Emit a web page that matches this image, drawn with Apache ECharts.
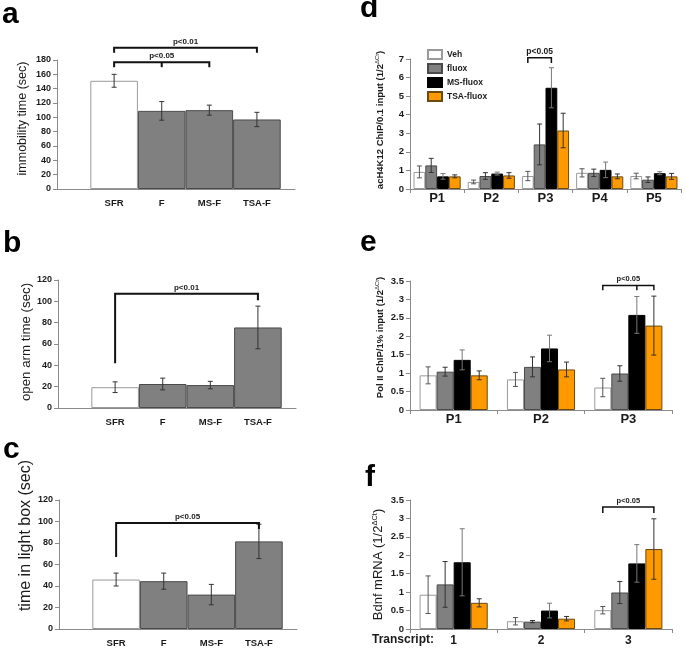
<!DOCTYPE html>
<html><head><meta charset="utf-8">
<script src="https://cdn.jsdelivr.net/npm/echarts@6/dist/echarts.min.js"></script>
<style>html,body{margin:0;padding:0;background:#fff}#c{width:685px;height:650px}</style>
</head><body><div id="c"></div>
<script>
// ---------- data ----------
const catsABC = ['SFR', 'F', 'MS-F', 'TSA-F'];
const immobility = [151, 109, 110, 97];
const immobilityErr = [9, 13, 7, 10];
const openArm = [19.5, 22.5, 21.5, 75.5];
const openArmErr = [5, 5.5, 3.5, 20];
const lightBox = [46, 44.5, 32, 81.5];
const lightBoxErr = [6, 7.5, 9.5, 16];

const seriesNames = ['Veh', 'fluox', 'MS-fluox', 'TSA-fluox'];
const catsD = ['P1', 'P2', 'P3', 'P4', 'P5'];
const vehD = [0.92, 0.38, 0.7, 0.87, 0.7];
const vehDErr = [0.32, 0.1, 0.25, 0.22, 0.15];
const fluoxD = [1.27, 0.7, 2.4, 0.87, 0.5];
const fluoxDErr = [0.38, 0.18, 1.1, 0.2, 0.15];
const msD = [0.68, 0.83, 5.45, 1.03, 0.85];
const msDErr = [0.15, 0.08, 1.08, 0.42, 0.08];
const tsaD = [0.68, 0.73, 3.15, 0.68, 0.68];
const tsaDErr = [0.08, 0.15, 0.93, 0.13, 0.16];

const catsE = ['P1', 'P2', 'P3'];
const vehE = [0.94, 0.83, 0.61];
const vehEErr = [0.23, 0.19, 0.25];
const fluoxE = [1.04, 1.17, 0.99];
const fluoxEErr = [0.12, 0.27, 0.21];
const msE = [1.36, 1.67, 2.58];
const msEErr = [0.27, 0.36, 0.5];
const tsaE = [0.94, 1.1, 2.29];
const tsaEErr = [0.12, 0.2, 0.8];

const catsF = ['1', '2', '3'];
const vehF = [0.93, 0.21, 0.51];
const vehFErr = [0.51, 0.1, 0.1];
const fluoxF = [1.21, 0.2, 0.99];
const fluoxFErr = [0.62, 0.03, 0.3];
const msF = [1.81, 0.5, 1.78];
const msFErr = [0.91, 0.2, 0.51];
const tsaF = [0.71, 0.28, 2.17];
const tsaFErr = [0.11, 0.06, 0.82];

// significance annotations (category index, bar index within group, y in data units)
const sigA = [
  {text: 'p<0.01', c1: [0, 0], c2: [3, 0], y: 197, d1: 190, d2: 190},
  {text: 'p<0.05', c1: [0, 0], c2: [2, 0], y: 177, d1: 170, d2: 170, mid: [1, 0], dm: 170}
];
const sigB = [{text: 'p<0.01', c1: [0, 0], c2: [3, 0], y: 107, d1: 42, d2: 101}];
const sigC = [{text: 'p<0.05', c1: [0, 0], c2: [3, 0], y: 98.5, d1: 67, d2: 93}];
const sigD = [{text: 'p<0.05', c1: [2, 0], c2: [2, 2], y: 7.07, d1: 6.78, d2: 6.78}];
const sigE = [{text: 'p<0.05', c1: [2, 0], c2: [2, 3], y: 3.38, d1: 3.25, d2: 3.25, mid: [2, 2], dm: 3.25}];
const sigF = [{text: 'p<0.05', c1: [2, 0], c2: [2, 3], y: 3.31, d1: 3.15, d2: 3.15}];

// ---------- styles ----------
const FONT = '"Liberation Sans", Arial, sans-serif';
const TXT = '#1a1a1a';
const AX = '#8a8a8a';
const barStyles = [
  {color: '#ffffff', borderColor: '#9a9a9a', borderWidth: 1},
  {color: '#808080', borderColor: '#4a4a4a', borderWidth: 1},
  {color: '#000000', borderColor: '#000000', borderWidth: 1},
  {color: '#ff9900', borderColor: '#6a4a10', borderWidth: 1}
];
const gapD = 0.13, gapEF = 0.22;

const chart = echarts.init(document.getElementById('c'), null, {renderer: 'canvas'});

function yAxisCfg(gi, max, interval, name, nameGap, nameStyle, labelSize) {
  return {
    type: 'value', gridIndex: gi, min: 0, max: max, interval: interval,
    splitLine: {show: false},
    axisLine: {show: true, onZero: false, lineStyle: {color: AX, width: 1}},
    axisTick: {show: true, length: 4, inside: false, lineStyle: {color: AX}},
    axisLabel: {fontFamily: FONT, fontSize: labelSize, fontWeight: 'bold', color: TXT, margin: 6},
    name: name, nameLocation: 'middle', nameGap: nameGap, nameRotate: 90,
    nameTextStyle: nameStyle
  };
}
function xValueAxisCfg(gi, cats) {
  return {
    type: 'value', gridIndex: gi, min: -1.2, max: 3.8, interval: 0.2,
    splitLine: {show: false},
    axisLine: {show: true, onZero: false, lineStyle: {color: AX, width: 1}},
    axisTick: {show: false},
    axisLabel: {
      fontFamily: FONT, fontSize: 9.5, fontWeight: 'bold', color: TXT, margin: 9,
      showMinLabel: true, showMaxLabel: true,
      formatter: function (v) {
        const r = Math.round(v);
        return (Math.abs(v - r) < 1e-6 && r >= 0 && r < cats.length) ? cats[r] : '';
      }
    }
  };
}
function xCatAxisCfg(gi, cats, fontSize, margin) {
  return {
    type: 'category', gridIndex: gi, data: cats,
    axisLine: {show: true, onZero: false, lineStyle: {color: AX, width: 1}},
    axisTick: {show: true, length: 4, lineStyle: {color: AX}},
    axisLabel: {fontFamily: FONT, fontSize: fontSize, fontWeight: 'bold', color: TXT, margin: margin}
  };
}

function errRender(off, col) {
  return function (params, api) {
    const i = api.value(0), v = api.value(1), e = api.value(2);
    const c = api.coord([i, v]);
    const band = api.size([1, 0])[0];
    const x = c[0] + off * band;
    const yt = api.coord([i, v + e])[1];
    const yb = api.coord([i, Math.max(0, v - e)])[1];
    const cap = 2.5;
    const st = {stroke: col, lineWidth: 1};
    return {type: 'group', children: [
      {type: 'line', shape: {x1: x, y1: yt, x2: x, y2: yb}, style: st},
      {type: 'line', shape: {x1: x - cap, y1: yt, x2: x + cap, y2: yt}, style: st},
      {type: 'line', shape: {x1: x - cap, y1: yb, x2: x + cap, y2: yb}, style: st}
    ]};
  };
}
function errSeries(gi, vals, errs, off, col) {
  return {
    type: 'custom', xAxisIndex: gi, yAxisIndex: gi, z: 5, silent: true,
    renderItem: errRender(off, col),
    encode: {x: 0, y: 1},
    data: vals.map((v, i) => [i, v, errs[i]])
  };
}
function sigSeries(gi, sigs, barFrac, lw, fontSize) {
  return {
    type: 'custom', xAxisIndex: gi, yAxisIndex: gi, z: 6, silent: true,
    encode: {x: 0, y: 1},
    data: sigs.map(s => [s.c1[0], s.y]),
    renderItem: function (params, api) {
      const s = sigs[params.dataIndex];
      const band = api.size([1, 0])[0];
      const px = (cb) => api.coord([cb[0], 0])[0] + (barFrac ? (cb[1] - 1.5) * barFrac * band : 0);
      const py = (v) => api.coord([0, v])[1];
      const x1 = px(s.c1), x2 = px(s.c2), yl = py(s.y);
      const st = {stroke: '#111', lineWidth: lw, fill: null};
      const ch = [
        {type: 'polyline', shape: {points: [[x1, py(s.d1)], [x1, yl], [x2, yl], [x2, py(s.d2)]]}, style: st},
        {type: 'text', style: {text: s.text, x: (x1 + x2) / 2, y: yl - 2, align: 'center', verticalAlign: 'bottom',
          fontFamily: FONT, fontSize: fontSize, fontWeight: 'bold', fill: TXT}}
      ];
      if (s.mid) {
        const xm = px(s.mid);
        ch.push({type: 'line', shape: {x1: xm, y1: yl, x2: xm, y2: py(s.dm)}, style: st});
      }
      return {type: 'group', children: ch};
    }
  };
}

function abcBar(gi, vals) {
  return {
    type: 'bar', xAxisIndex: gi, yAxisIndex: gi, barWidth: 47.6, silent: true,
    data: vals.map((v, i) => ({value: [i, v], itemStyle: i === 0 ? barStyles[0] : barStyles[1]}))
  };
}
function groupBars(gi, groups, gap) {
  return groups.map((vals, k) => ({
    type: 'bar', name: seriesNames[k], xAxisIndex: gi, yAxisIndex: gi,
    barGap: '0%', barCategoryGap: (gap * 100) + '%', silent: true,
    itemStyle: barStyles[k], data: vals
  }));
}
function groupErrs(gi, groups, errs, gap) {
  const bw = (1 - gap) / 4;
  const cols = ['#555', '#333', '#777', '#333'];
  return groups.map((vals, k) => errSeries(gi, vals, errs[k], (k - 1.5) * bw, cols[k]));
}

const supName = (pre) => '{n|' + pre + '}{s|ΔCt}{n|)}';

const option = {
  animation: false,
  backgroundColor: '#ffffff',
  textStyle: {fontFamily: FONT},
  grid: [
    {left: 57, top: 60, width: 238, height: 129},
    {left: 58, top: 280, width: 238, height: 128},
    {left: 59, top: 500, width: 238, height: 129},
    {left: 410, top: 59, width: 271, height: 130},
    {left: 410, top: 281, width: 262, height: 129},
    {left: 410, top: 500, width: 262, height: 129}
  ],
  xAxis: [
    xValueAxisCfg(0, catsABC),
    xValueAxisCfg(1, catsABC),
    xValueAxisCfg(2, catsABC),
    xCatAxisCfg(3, catsD, 13, 3),
    xCatAxisCfg(4, catsE, 13, 3),
    xCatAxisCfg(5, catsF, 12, 6)
  ],
  yAxis: [
    yAxisCfg(0, 180, 20, 'immobility time (sec)', 28, {fontFamily: FONT, fontSize: 12.5, color: TXT, padding: [0, 0, 0, 12]}, 9),
    yAxisCfg(1, 120, 20, 'open arm time (sec)', 24, {fontFamily: FONT, fontSize: 13.3, color: TXT, padding: [0, 0, 0, 4]}, 9),
    yAxisCfg(2, 120, 20, 'time in light box (sec)', 24, {fontFamily: FONT, fontSize: 16, color: TXT, padding: [0, 0, 0, 58]}, 9),
    yAxisCfg(3, 7, 1, supName('acH4K12 ChIP/0.1 input (1/2'), 24,
      {padding: [0, 0, 0, 8],
       rich: {n: {fontFamily: FONT, fontSize: 9.5, fontWeight: 'bold', color: TXT, lineHeight: 12},
              s: {fontFamily: FONT, fontSize: 6, color: TXT, verticalAlign: 'top', lineHeight: 12}}}, 9.5),
    yAxisCfg(4, 3.5, 0.5, supName('Pol II ChIP/1% input (1/2'), 24,
      {padding: [0, 0, 0, 16],
       rich: {n: {fontFamily: FONT, fontSize: 9.5, fontWeight: 'bold', color: TXT, lineHeight: 12},
              s: {fontFamily: FONT, fontSize: 6, color: TXT, verticalAlign: 'top', lineHeight: 12}}}, 9.5),
    yAxisCfg(5, 3.5, 0.5, supName('Bdnf mRNA (1/2'), 24,
      {rich: {n: {fontFamily: FONT, fontSize: 13, color: TXT, lineHeight: 15},
              s: {fontFamily: FONT, fontSize: 7.5, color: TXT, verticalAlign: 'top', lineHeight: 15}}}, 9.5)
  ],
  legend: {
    orient: 'vertical', left: 427, top: 49, padding: 0,
    itemWidth: 14, itemHeight: 9, itemGap: 3, icon: 'rect', selectedMode: false,
    data: seriesNames,
    textStyle: {fontFamily: FONT, fontSize: 8.5, fontWeight: 'bold', color: TXT}
  },
  graphic: [
    {type: 'text', left: 2, top: 0, style: {text: 'a', fontFamily: FONT, fontSize: 30, fontWeight: 'bold', fill: '#000'}},
    {type: 'text', left: 3, top: 229, style: {text: 'b', fontFamily: FONT, fontSize: 30, fontWeight: 'bold', fill: '#000'}},
    {type: 'text', left: 3, top: 435, style: {text: 'c', fontFamily: FONT, fontSize: 30, fontWeight: 'bold', fill: '#000'}},
    {type: 'text', left: 360, top: -6, style: {text: 'd', fontFamily: FONT, fontSize: 30, fontWeight: 'bold', fill: '#000'}},
    {type: 'text', left: 360, top: 228, style: {text: 'e', fontFamily: FONT, fontSize: 30, fontWeight: 'bold', fill: '#000'}},
    {type: 'text', left: 365, top: 463, style: {text: 'f', fontFamily: FONT, fontSize: 30, fontWeight: 'bold', fill: '#000'}},
    {type: 'text', left: 372, top: 634, style: {text: 'Transcript:', fontFamily: FONT, fontSize: 12, fontWeight: 'bold', fill: TXT}}
  ],
  series: [].concat(
    [abcBar(0, immobility), abcBar(1, openArm), abcBar(2, lightBox)],
    [errSeries(0, immobility, immobilityErr, 0, '#333'),
     errSeries(1, openArm, openArmErr, 0, '#333'),
     errSeries(2, lightBox, lightBoxErr, 0, '#333')],
    groupBars(3, [vehD, fluoxD, msD, tsaD], gapD),
    groupBars(4, [vehE, fluoxE, msE, tsaE], gapEF),
    groupBars(5, [vehF, fluoxF, msF, tsaF], gapEF),
    groupErrs(3, [vehD, fluoxD, msD, tsaD], [vehDErr, fluoxDErr, msDErr, tsaDErr], gapD),
    groupErrs(4, [vehE, fluoxE, msE, tsaE], [vehEErr, fluoxEErr, msEErr, tsaEErr], gapEF),
    groupErrs(5, [vehF, fluoxF, msF, tsaF], [vehFErr, fluoxFErr, msFErr, tsaFErr], gapEF),
    [sigSeries(0, sigA, 0, 2, 8), sigSeries(1, sigB, 0, 2, 8), sigSeries(2, sigC, 0, 2, 8),
     sigSeries(3, sigD, (1 - gapD) / 4, 1.5, 8.5),
     sigSeries(4, sigE, (1 - gapEF) / 4, 1.5, 7.5),
     sigSeries(5, sigF, (1 - gapEF) / 4, 1.5, 7.5)]
  )
};
chart.setOption(option);
</script></body></html>
